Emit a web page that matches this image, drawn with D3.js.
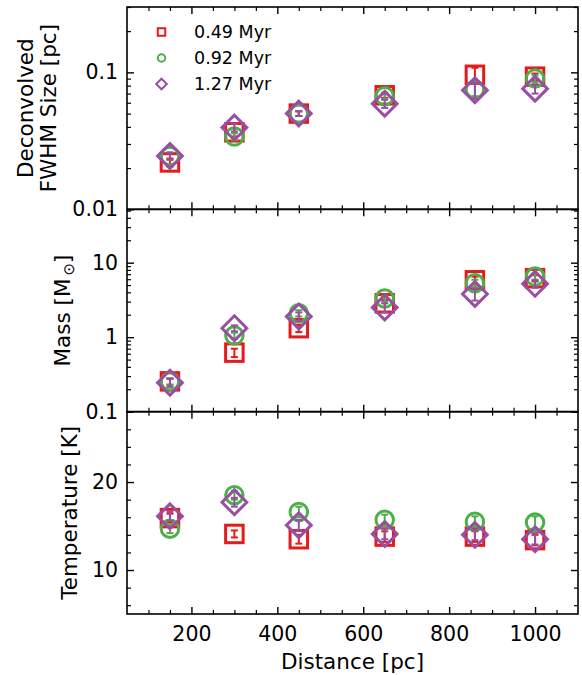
<!DOCTYPE html>
<html>
<head>
<meta charset="utf-8">
<script src="https://cdn.jsdelivr.net/npm/d3@7"></script>
<style>
body { margin: 0; background: #fff; }
text { font-family: 'DejaVu Sans', sans-serif; fill: #000; }
</style>
</head>
<body>
<div id="chart"></div>
<script>
'use strict';
// sample distances and evolutionary ages
var distances = [150, 300, 450, 650, 860, 1000];
var ages = ['0.49 Myr', '0.92 Myr', '1.27 Myr'];
var colors = ['#e41a1c', '#4daf4a', '#984ea3'];
var shapes = ['square', 'circle', 'diamond'];

// deconvolved FWHM size [pc]
var size049 = [0.022, 0.0365, 0.050, 0.068, 0.096, 0.093];
var size092 = [0.0245, 0.034, 0.050, 0.067, 0.075, 0.090];
var size127 = [0.0245, 0.0395, 0.050, 0.059, 0.074, 0.076];
var sizeErr049 = [0.0015, 0.0025, 0.002, 0.003, 0.012, 0.005];
var sizeErr092 = [0.0015, 0.002, 0.002, 0.003, 0.008, 0.005];
var sizeErr127 = [0.0015, 0.0025, 0.002, 0.004, 0.010, 0.006];

// mass [Msun]
var mass049 = [0.255, 0.62, 1.32, 2.85, 5.8, 6.2];
var mass092 = [0.255, 1.05, 2.1, 3.3, 5.3, 6.5];
var mass127 = [0.245, 1.32, 1.9, 2.5, 3.8, 5.2];
var massErr049 = [0.025, 0.08, 0.15, 0.3, 0.7, 0.6];
var massErr092 = [0.025, 0.1, 0.2, 0.3, 0.6, 0.6];
var massErr127 = [0.03, 0.12, 0.25, 0.35, 0.7, 0.6];

// temperature [K]
var temp049 = [15.9, 14.1, 13.5, 13.8, 13.8, 13.4];
var temp092 = [14.7, 18.5, 16.6, 15.7, 15.5, 15.4];
var temp127 = [16.1, 17.7, 15.1, 14.1, 14.0, 13.5];
var tempErr049 = [0.5, 0.4, 0.5, 0.6, 0.6, 0.6];
var tempErr092 = [0.5, 0.5, 0.6, 0.6, 0.6, 0.7];
var tempErr127 = [0.5, 0.5, 0.6, 0.6, 0.6, 0.6];

// tick labels
var distTicks = [200, 400, 600, 800, 1000];
var sizeTicks = ['0.01', '0.1'];
var massTicks = ['0.1', '1', '10'];
var tempTicks = ['10', '20'];

var width = 582, height = 675;
var plotLeft = 127, plotRight = 578, plotTop = 7, plotBottom = 614;
var panelH = (plotBottom - plotTop) / 3;

var svg = d3.select('#chart').append('svg')
    .attr('width', width)
    .attr('height', height);

var x = d3.scaleLinear().domain([50, 1100]).range([plotLeft, plotRight]);

var panels = [
    { scale: d3.scaleLog().domain([0.01, 0.3]), series: [size049, size092, size127],
      errs: [sizeErr049, sizeErr092, sizeErr127], major: sizeTicks,
      label: ['Deconvolved', 'FWHM Size [pc]'], labelX: [33, 56] },
    { scale: d3.scaleLog().domain([0.1, 52]), series: [mass049, mass092, mass127],
      errs: [massErr049, massErr092, massErr127], major: massTicks,
      label: null, labelX: [70] },
    { scale: d3.scaleLinear().domain([5, 28]), series: [temp049, temp092, temp127],
      errs: [tempErr049, tempErr092, tempErr127], major: tempTicks,
      label: ['Temperature [K]'], labelX: [77] }
];

function drawMarker(g, shape, cx, cy, s, color, sw) {
    if (shape == 'square') {
        g.append('rect')
            .attr('x', cx - s / 2).attr('y', cy - s / 2)
            .attr('width', s).attr('height', s)
            .attr('fill', 'none').attr('stroke', color).attr('stroke-width', sw);
    }
    else if (shape == 'circle') {
        g.append('circle')
            .attr('cx', cx).attr('cy', cy).attr('r', s / 2)
            .attr('fill', 'none').attr('stroke', color).attr('stroke-width', sw);
    }
    else {
        var h = s / Math.SQRT2;
        g.append('path')
            .attr('d', 'M' + cx + ',' + (cy - h) + 'L' + (cx + h) + ',' + cy +
                       'L' + cx + ',' + (cy + h) + 'L' + (cx - h) + ',' + cy + 'Z')
            .attr('fill', 'none').attr('stroke', color).attr('stroke-width', sw)
            .attr('stroke-linejoin', 'miter');
    }
}

function styleTicks(a, w) {
    a.select('.domain').remove();
    a.selectAll('line').attr('stroke', '#000').attr('stroke-width', w);
    a.selectAll('text').style('font-size', '20.5px').attr('fill', '#000');
}

panels.forEach(function (p, pi) {
    var y0 = plotTop + pi * panelH, y1 = y0 + panelH;
    var y = p.scale.range([y1, y0]);
    var g = svg.append('g');

    var dom = y.domain();
    var allTicks = y.ticks(12).filter(function (t) { return t >= dom[0] - 1e-9 && t <= dom[1] + 1e-9; });
    var majorVals = p.major.map(Number);
    var minorVals = allTicks.filter(function (t) {
        return !majorVals.some(function (m) { return Math.abs(m - t) < 1e-9; });
    });

    // left ticks: majors labelled, minors bare
    g.append('g')
        .attr('transform', 'translate(' + plotLeft + ',0)')
        .call(d3.axisLeft(y).tickValues(majorVals).tickSizeInner(-7).tickSizeOuter(0).tickPadding(9)
            .tickFormat(function (d, i) { return p.major[i]; }))
        .call(styleTicks, 1.4);
    g.append('g')
        .attr('transform', 'translate(' + plotLeft + ',0)')
        .call(d3.axisLeft(y).tickValues(minorVals).tickSizeInner(-4).tickSizeOuter(0).tickFormat(''))
        .call(styleTicks, 1.2);
    // right ticks
    g.append('g')
        .attr('transform', 'translate(' + plotRight + ',0)')
        .call(d3.axisRight(y).tickValues(majorVals).tickSizeInner(-7).tickSizeOuter(0).tickFormat(''))
        .call(styleTicks, 1.4);
    g.append('g')
        .attr('transform', 'translate(' + plotRight + ',0)')
        .call(d3.axisRight(y).tickValues(minorVals).tickSizeInner(-4).tickSizeOuter(0).tickFormat(''))
        .call(styleTicks, 1.2);

    // x ticks on top and bottom of each panel
    var xMinor = d3.range(100, 1100, 50).filter(function (v) { return distTicks.indexOf(v) < 0; });
    [[y0, d3.axisTop], [y1, d3.axisBottom]].forEach(function (e) {
        var showLabels = e[1] === d3.axisBottom && pi == 2;
        g.append('g')
            .attr('transform', 'translate(0,' + e[0] + ')')
            .call(e[1](x).tickValues(distTicks).tickSizeInner(-7).tickSizeOuter(0).tickPadding(12)
                .tickFormat(showLabels ? d3.format('d') : ''))
            .call(styleTicks, 1.4);
        g.append('g')
            .attr('transform', 'translate(0,' + e[0] + ')')
            .call(e[1](x).tickValues(xMinor).tickSizeInner(-4).tickSizeOuter(0).tickFormat(''))
            .call(styleTicks, 1.2);
    });

    // data: error bars then markers, series by series
    p.series.forEach(function (vals, si) {
        var sg = g.append('g');
        var errs = p.errs[si];
        vals.forEach(function (v, i) {
            var cx = x(distances[i]);
            var ya = y(v - errs[i]), yb = y(v + errs[i]);
            sg.append('line').attr('x1', cx).attr('x2', cx).attr('y1', ya).attr('y2', yb)
                .attr('stroke', colors[si]).attr('stroke-width', 2);
            [ya, yb].forEach(function (yy) {
                sg.append('line').attr('x1', cx - 3.5).attr('x2', cx + 3.5).attr('y1', yy).attr('y2', yy)
                    .attr('stroke', colors[si]).attr('stroke-width', 2);
            });
            drawMarker(sg, shapes[si], cx, y(v), 17.5, colors[si], 3);
        });
    });

    // frame
    g.append('rect')
        .attr('x', plotLeft).attr('y', y0)
        .attr('width', plotRight - plotLeft).attr('height', panelH)
        .attr('fill', 'none').attr('stroke', '#000').attr('stroke-width', 1.6);

    // y label
    var cy = (y0 + y1) / 2;
    if (p.label) {
        p.label.forEach(function (t, li) {
            svg.append('text')
                .attr('transform', 'translate(' + p.labelX[li] + ',' + cy + ') rotate(-90)')
                .attr('text-anchor', 'middle')
                .style('font-size', '21.5px')
                .text(t);
        });
    }
    else {
        var mt = svg.append('text')
            .attr('transform', 'translate(' + p.labelX[0] + ',' + cy + ') rotate(-90)')
            .attr('text-anchor', 'middle')
            .style('font-size', '21.5px');
        mt.append('tspan').text('Mass [M');
        mt.append('tspan').attr('dy', 4).style('font-size', '15px').text('\u2009\u2299');
        mt.append('tspan').attr('dy', -4).text(']');
    }
});

// x label
svg.append('text')
    .attr('x', (plotLeft + plotRight) / 2)
    .attr('y', 669)
    .attr('text-anchor', 'middle')
    .style('font-size', '21.5px')
    .text('Distance [pc]');

// legend
var legend = svg.append('g');
ages.forEach(function (a, i) {
    var ly = 32 + i * 26;
    drawMarker(legend, shapes[i], 161.5, ly, 7.5, colors[i], 2);
    legend.append('text')
        .attr('x', 194)
        .attr('y', ly + 6)
        .style('font-size', '17.5px')
        .text(a);
});
</script>
</body>
</html>
